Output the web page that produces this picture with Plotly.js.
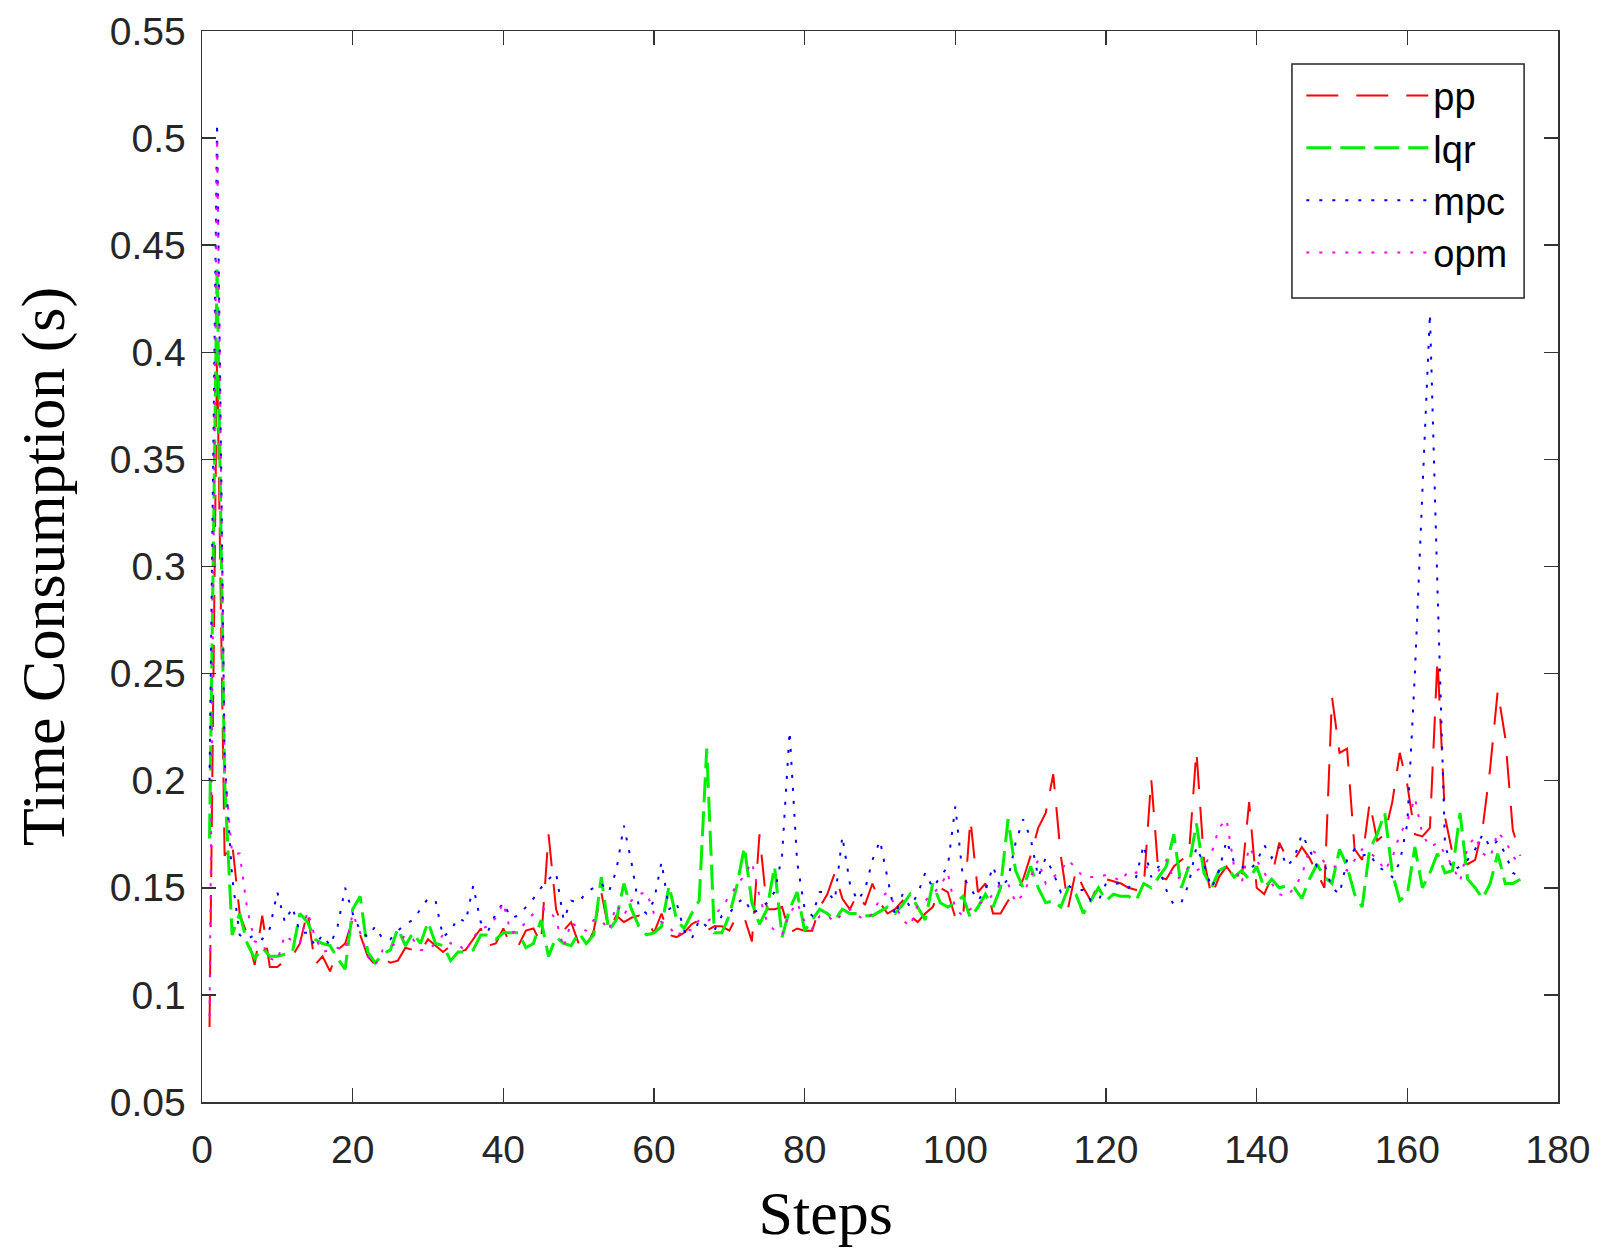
<!DOCTYPE html>
<html>
<head>
<meta charset="utf-8">
<script src="https://cdn.plot.ly/plotly-3.0.1.min.js"></script>
<style>
  html, body { margin: 0; padding: 0; background: #fff; }
  #plot { width: 1602px; height: 1259px; }
</style>
</head>
<body>
<div id="plot"></div>
<script>
// time consumption per step (s)
var pp = [
  0.085, 0.40, 0.165, 0.171, 0.138, 0.128, 0.114, 0.137, 0.113, 0.113,
  0.116, 0.118, 0.124, 0.139, 0.114, 0.118, 0.111, 0.121, 0.124, 0.135,
  0.128, 0.118, 0.114, 0.117, 0.115, 0.116, 0.122, 0.121, 0.120, 0.126,
  0.123, 0.120, 0.123, 0.120, 0.121, 0.126, 0.131, 0.123, 0.124, 0.131,
  0.123, 0.123, 0.130, 0.131, 0.124, 0.175, 0.140, 0.130, 0.134, 0.124,
  0.122, 0.130, 0.148, 0.130, 0.137, 0.134, 0.136, 0.137, 0.135, 0.129,
  0.138, 0.128, 0.127, 0.129, 0.133, 0.135, 0.130, 0.132, 0.132, 0.130,
  0.137, 0.136, 0.125, 0.175, 0.140, 0.140, 0.141, 0.129, 0.131, 0.130,
  0.130, 0.141, 0.147, 0.157, 0.145, 0.140, 0.147, 0.142, 0.152, 0.143,
  0.138, 0.140, 0.144, 0.137, 0.134, 0.138, 0.141, 0.150, 0.148, 0.136,
  0.135, 0.182, 0.148, 0.152, 0.138, 0.138, 0.144, 0.147, 0.154, 0.165,
  0.178, 0.185, 0.203, 0.165, 0.141, 0.158, 0.150, 0.144, 0.152, 0.154,
  0.153, 0.152, 0.150, 0.149, 0.150, 0.201, 0.155, 0.154, 0.160, 0.163,
  0.165, 0.214, 0.163, 0.146, 0.155, 0.160, 0.155, 0.154, 0.190, 0.150,
  0.147, 0.155, 0.171, 0.164, 0.163, 0.169, 0.164, 0.157, 0.150, 0.239,
  0.213, 0.215, 0.168, 0.163, 0.190, 0.172, 0.175, 0.190, 0.213, 0.198,
  0.175, 0.174, 0.178, 0.257, 0.183, 0.166, 0.164, 0.161, 0.163, 0.178,
  0.206, 0.242, 0.220, 0.177, 0.165
];
var lqr = [
  0.173, 0.44, 0.200, 0.128, 0.138, 0.124, 0.117, 0.122, 0.118, 0.118,
  0.119, 0.120, 0.138, 0.134, 0.126, 0.124, 0.123, 0.117, 0.112, 0.140,
  0.146, 0.120, 0.115, 0.119, 0.121, 0.131, 0.123, 0.129, 0.124, 0.134,
  0.124, 0.123, 0.116, 0.120, 0.120, 0.121, 0.128, 0.128, 0.126, 0.129,
  0.129, 0.129, 0.122, 0.124, 0.135, 0.118, 0.127, 0.124, 0.123, 0.129,
  0.124, 0.128, 0.155, 0.130, 0.135, 0.152, 0.140, 0.132, 0.128, 0.129,
  0.132, 0.151, 0.135, 0.131, 0.138, 0.144, 0.215, 0.129, 0.129, 0.137,
  0.151, 0.169, 0.143, 0.133, 0.140, 0.160, 0.127, 0.140, 0.148, 0.130,
  0.135, 0.140, 0.138, 0.135, 0.140, 0.138, 0.138, 0.137, 0.137, 0.139,
  0.141, 0.138, 0.142, 0.147, 0.141, 0.135, 0.152, 0.143, 0.141, 0.143,
  0.146, 0.136, 0.141, 0.147, 0.141, 0.150, 0.182, 0.158, 0.150, 0.160,
  0.150, 0.143, 0.144, 0.141, 0.150, 0.147, 0.138, 0.144, 0.150, 0.144,
  0.147, 0.146, 0.146, 0.144, 0.152, 0.150, 0.155, 0.160, 0.175, 0.150,
  0.160, 0.180, 0.157, 0.150, 0.158, 0.160, 0.155, 0.158, 0.154, 0.160,
  0.150, 0.154, 0.150, 0.151, 0.150, 0.145, 0.154, 0.161, 0.155, 0.152,
  0.168, 0.160, 0.147, 0.141, 0.168, 0.175, 0.185, 0.157, 0.144, 0.147,
  0.169, 0.150, 0.157, 0.166, 0.157, 0.158, 0.185, 0.154, 0.150, 0.145,
  0.152, 0.166, 0.152, 0.152, 0.154
];
var mpc = [
  0.200, 0.507, 0.210, 0.155, 0.128, 0.126, 0.128, 0.126, 0.131, 0.148,
  0.134, 0.141, 0.129, 0.129, 0.123, 0.128, 0.123, 0.132, 0.150, 0.138,
  0.130, 0.127, 0.132, 0.126, 0.126, 0.130, 0.133, 0.135, 0.140, 0.145,
  0.144, 0.127, 0.130, 0.136, 0.134, 0.151, 0.134, 0.130, 0.138, 0.143,
  0.136, 0.137, 0.141, 0.145, 0.150, 0.154, 0.157, 0.135, 0.144, 0.143,
  0.148, 0.150, 0.152, 0.148, 0.158, 0.179, 0.162, 0.141, 0.138, 0.144,
  0.162, 0.140, 0.143, 0.130, 0.126, 0.135, 0.132, 0.130, 0.137, 0.138,
  0.143, 0.145, 0.138, 0.140, 0.143, 0.148, 0.165, 0.223, 0.162, 0.140,
  0.137, 0.148, 0.148, 0.144, 0.174, 0.152, 0.144, 0.149, 0.163, 0.172,
  0.155, 0.137, 0.147, 0.141, 0.147, 0.157, 0.150, 0.155, 0.160, 0.188,
  0.155, 0.150, 0.144, 0.149, 0.160, 0.150, 0.154, 0.171, 0.182, 0.173,
  0.155, 0.164, 0.157, 0.148, 0.151, 0.149, 0.149, 0.144, 0.144, 0.152,
  0.152, 0.152, 0.150, 0.155, 0.170, 0.155, 0.160, 0.149, 0.142, 0.143,
  0.152, 0.169, 0.161, 0.150, 0.158, 0.172, 0.162, 0.160, 0.158, 0.162,
  0.170, 0.164, 0.169, 0.160, 0.164, 0.175, 0.168, 0.160, 0.161, 0.150,
  0.147, 0.163, 0.168, 0.165, 0.166, 0.160, 0.158, 0.155, 0.162, 0.180,
  0.250, 0.335, 0.418, 0.290, 0.170, 0.158, 0.160, 0.163, 0.168, 0.175,
  0.169, 0.172, 0.166, 0.157, 0.155
];
var opm = [
  0.090, 0.500, 0.205, 0.166, 0.166, 0.140, 0.125, 0.124, 0.117, 0.116,
  0.128, 0.125, 0.124, 0.139, 0.127, 0.120, 0.121, 0.122, 0.121, 0.138,
  0.129, 0.118, 0.114, 0.121, 0.123, 0.124, 0.128, 0.126, 0.121, 0.121,
  0.124, 0.128, 0.124, 0.124, 0.120, 0.127, 0.131, 0.132, 0.136, 0.143,
  0.129, 0.130, 0.134, 0.138, 0.140, 0.140, 0.135, 0.122, 0.134, 0.131,
  0.130, 0.135, 0.135, 0.130, 0.142, 0.137, 0.144, 0.147, 0.148, 0.138,
  0.134, 0.132, 0.127, 0.131, 0.130, 0.135, 0.134, 0.137, 0.141, 0.146,
  0.151, 0.156, 0.162, 0.146, 0.134, 0.130, 0.128, 0.138, 0.143, 0.134,
  0.131, 0.137, 0.137, 0.134, 0.138, 0.140, 0.137, 0.135, 0.138, 0.145,
  0.148, 0.142, 0.135, 0.132, 0.142, 0.144, 0.147, 0.151, 0.157, 0.140,
  0.137, 0.140, 0.143, 0.143, 0.147, 0.152, 0.152, 0.143, 0.147, 0.155,
  0.163, 0.152, 0.155, 0.158, 0.163, 0.159, 0.155, 0.155, 0.155, 0.156,
  0.155, 0.153, 0.158, 0.157, 0.160, 0.159, 0.158, 0.163, 0.154, 0.155,
  0.160, 0.158, 0.160, 0.166, 0.178, 0.182, 0.160, 0.152, 0.169, 0.163,
  0.157, 0.152, 0.147, 0.146, 0.150, 0.156, 0.168, 0.166, 0.162, 0.160,
  0.160, 0.158, 0.163, 0.168, 0.166, 0.164, 0.158, 0.164, 0.175, 0.181,
  0.192, 0.175, 0.169, 0.171, 0.166, 0.160, 0.153, 0.169, 0.174, 0.166,
  0.164, 0.176, 0.172, 0.165, 0.160
];

// steps are just 1..N
var steps = [];
for (var i = 0; i < pp.length; i++) steps.push(i + 1);

var tickFont = {family: 'Liberation Sans, Arial, sans-serif', size: 39, color: '#262626'};
var titleFont = {family: 'Liberation Serif, Times New Roman, serif', size: 62, color: '#000'};

function series(name, y, color, width, dash) {
  return {
    x: steps, y: y, name: name, type: 'scatter', mode: 'lines',
    line: {color: color, width: width, dash: dash},
    legendgroup: name
  };
}

var data = [
  series('pp',  pp,  '#ff0000', 2,   '32px,18px'),
  series('lqr', lqr, '#00f000', 3,   '25px,9px'),
  series('mpc', mpc, '#0000ff', 2,   '3px,10px'),
  series('opm', opm, '#ff00ff', 2,   '3px,10px')
];

var axisCommon = {
  showgrid: false, zeroline: false,
  showline: true, linecolor: '#333', linewidth: 1.5, mirror: 'allticks',
  ticks: 'inside', ticklen: 14, tickwidth: 1.5, tickcolor: '#333',
  tickfont: tickFont
};

var layout = {
  width: 1602,
  height: 1259,
  paper_bgcolor: '#fff',
  plot_bgcolor: '#fff',
  margin: {l: 202, r: 44, t: 31, b: 157, pad: 0},
  showlegend: true,
  xaxis: Object.assign({}, axisCommon, {
    range: [0, 180], dtick: 20, tick0: 0,
    ticklabelstandoff: 13,
    // trailing spaces push the label a bit left of centre, like the original
    title: {text: 'Steps' + '&nbsp;'.repeat(7), font: titleFont, standoff: 20}
  }),
  yaxis: Object.assign({}, axisCommon, {
    range: [0.05, 0.55], dtick: 0.05, tick0: 0.05,
    ticklabelstandoff: 7,
    title: {text: 'Time Consumption (s)', font: titleFont, standoff: 25}
  }),
  // legend frame drawn as a shape so its padding matches the original
  shapes: [{
    type: 'rect', xref: 'paper', yref: 'paper',
    x0: 0.8038, x1: 0.975, y0: 0.7507, y1: 0.9692,
    fillcolor: '#fff', line: {color: '#262626', width: 1.5}, layer: 'above'
  }],
  legend: {
    x: 0.8107, y: 0.969, xanchor: 'left', yanchor: 'top',
    bgcolor: 'rgba(0,0,0,0)', borderwidth: 0,
    font: {family: 'Liberation Sans, Arial, sans-serif', size: 38, color: '#000'},
    itemwidth: 122, tracegroupgap: 4, traceorder: 'normal'
  }
};

Plotly.newPlot('plot', data, layout, {staticPlot: true});
</script>
</body>
</html>
